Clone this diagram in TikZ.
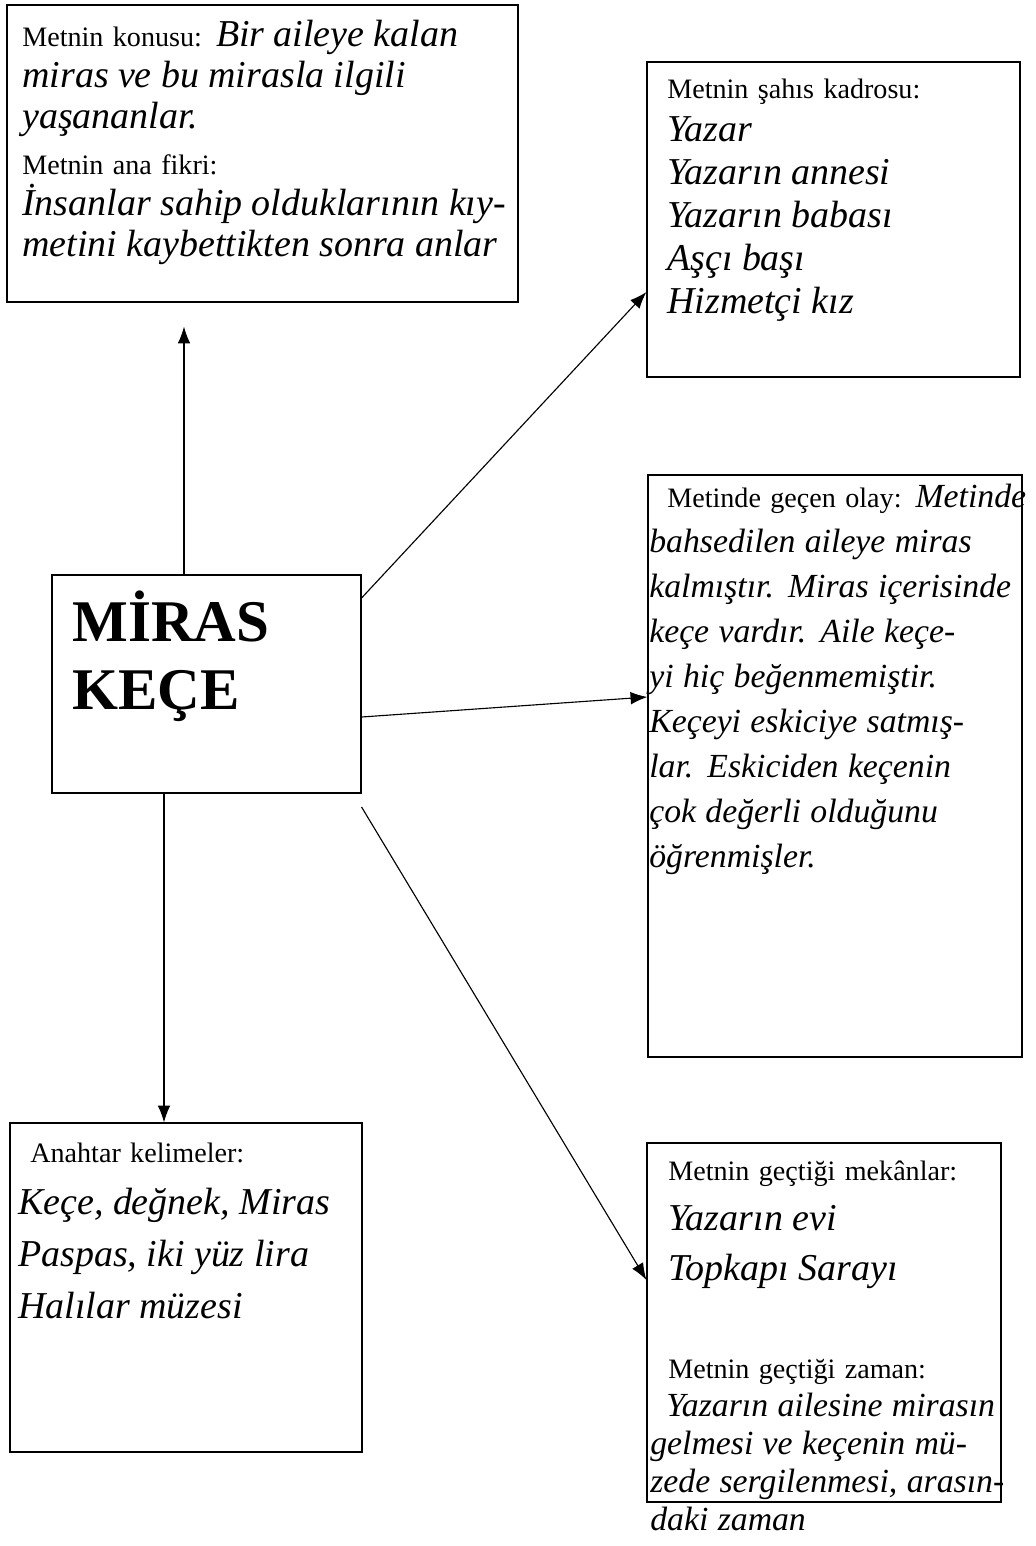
\documentclass[tikz,border=0pt]{standalone}
\usepackage{fontspec}
\setmainfont{Liberation Serif}
\usetikzlibrary{arrows.meta,fit}

% handwritten answers
\newcommand{\el}[2][24]{{\fontsize{#1}{#1}\selectfont\itshape #2}}

\begin{document}
\begin{tikzpicture}[
    x=0.025cm, y=-0.025cm,
    kutu/.style={draw, line width=0.8pt, inner sep=0pt},
    yazi/.style={anchor=north west, inner sep=0pt, align=left, text width=13cm,
                 font=\fontsize{20}{#1}\selectfont},
    ok/.style={-{Latex[length=12pt,width=9pt]}, line width=0.8pt}
]
\useasboundingbox (0,0) rectangle (1035,1546);

% Boxes
\node[kutu, fit={(7,5) (518,302)}] (konu) {};
\node[kutu, fit={(647,62) (1020,377)}] (sahis) {};
\node[kutu, fit={(648,475) (1022,1057)}] (olay) {};
\node[kutu, fit={(52,575) (361,793)}] (merkez) {};
\node[kutu, fit={(10,1123) (362,1452)}] (anahtar) {};
\node[kutu, fit={(647,1143) (1001,1502)}] (mekan) {};

% Title
\node[anchor=north west, inner sep=0pt, align=left,
      font=\fontsize{42}{48}\selectfont\bfseries] (baslik) at (72,591) {MİRAS\\KEÇE};

% Texts
\node[yazi=29] (konuyazi) at (22,20) {Metnin konusu: \el[27]{Bir aileye kalan}\\
    \el[27]{miras ve bu mirasla ilgili}\\
    \el[27]{yaşananlar.}\\[4pt]
    Metnin ana fikri:\\
    \el[27]{İnsanlar sahip olduklarının kıy-}\\
    \el[27]{metini kaybettikten sonra anlar}};

\node[yazi=30.5] (sahisyazi) at (667,79) {Metnin şahıs kadrosu:\\
    \el[27]{Yazar}\\
    \el[27]{Yazarın annesi}\\
    \el[27]{Yazarın babası}\\
    \el[27]{Aşçı başı}\\
    \el[27]{Hizmetçi kız}};

\node[yazi=32] (olayyazi) at (649,484) {\hspace*{0.45cm}Metinde geçen olay: \el{Metinde}\\
    \el{bahsedilen aileye miras}\\
    \el{kalmıştır. Miras içerisinde}\\
    \el{keçe vardır. Aile keçe-}\\
    \el{yi hiç beğenmemiştir.}\\
    \el{Keçeyi eskiciye satmış-}\\
    \el{lar. Eskiciden keçenin}\\
    \el{çok değerli olduğunu}\\
    \el{öğrenmişler.}};

\node[yazi=37] (anahtaryazi) at (18,1143) {\hspace*{0.3cm}Anahtar kelimeler:\\
    \el[27]{Keçe, değnek, Miras}\\
    \el[27]{Paspas, iki yüz lira}\\
    \el[27]{Halılar müzesi}};

\node[yazi=35.5] (mekanyazi) at (668,1161) {Metnin geçtiği mekânlar:\\
    \el[27]{Yazarın evi}\\
    \el[27]{Topkapı Sarayı}};

\node[yazi=27] (zamanyazi) at (650,1359) {\hspace*{0.45cm}Metnin geçtiği zaman:\\
    \hspace*{0.4cm}\el{Yazarın ailesine mirasın}\\
    \el{gelmesi ve keçenin mü-}\\
    \el{zede sergilenmesi, arasın-}\\
    \el{daki zaman}};

% Arrows
\draw[ok, shorten >=0.6cm] (184,0 |- merkez.north) -- (184,0 |- konu.south);
\draw[ok] (merkez.east |- 0,598) -- (sahis.west |- 0,292);
\draw[ok] (merkez.east |- 0,717) -- (olay.west |- 0,697);
\draw[ok] (merkez.east |- 0,807) -- (mekan.west |- 0,1280);
\draw[ok] (164,0 |- merkez.south) -- (164,0 |- anahtar.north);

\end{tikzpicture}
\end{document}
